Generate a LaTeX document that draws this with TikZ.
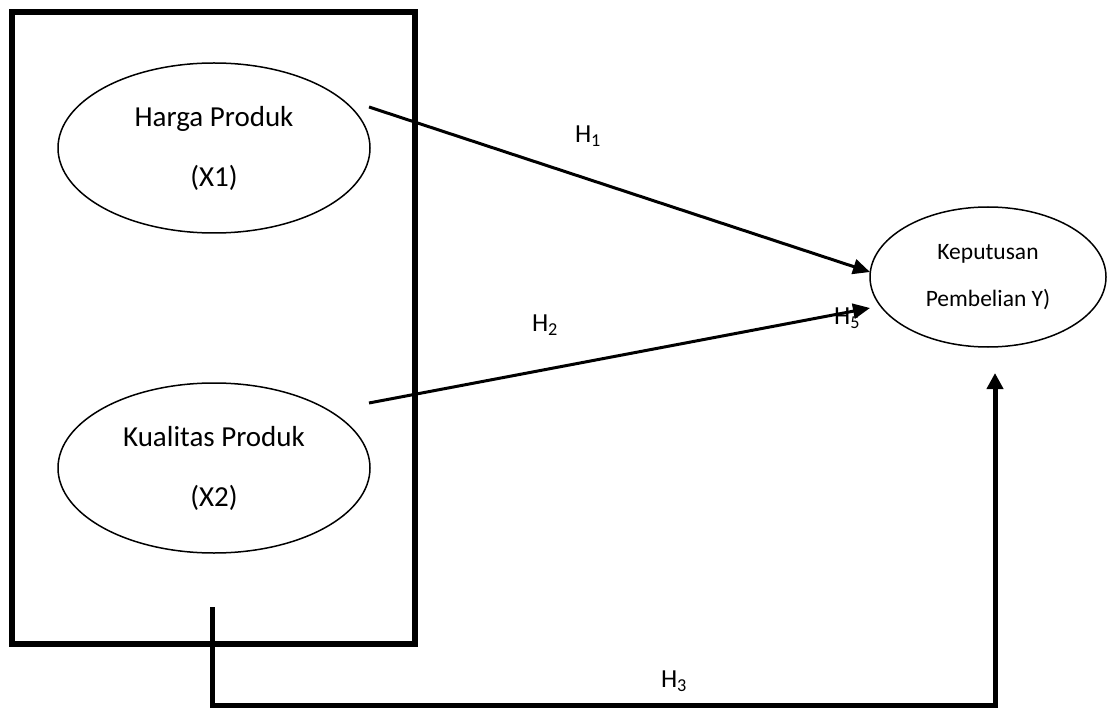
\documentclass[tikz,border=0pt]{standalone}
\usepackage{fontspec}
\setmainfont{Carlito}
\usetikzlibrary{positioning, arrows.meta, shapes.geometric}

\begin{document}
\begin{tikzpicture}[
  x=1pt, y=-1pt,
  grp/.style={draw, line width=6.5pt, minimum width=403pt, minimum height=632pt, inner sep=0pt},
  var/.style={ellipse, draw, line width=1.5pt, align=center, inner sep=0pt,
              minimum width=312pt, minimum height=170pt, font=\fontsize{29}{60}\selectfont},
  dep/.style={ellipse, draw, line width=1.5pt, align=center, inner sep=0pt,
              minimum width=236pt, minimum height=140pt, font=\fontsize{23.5}{47}\selectfont},
  hlab/.style={font=\fontsize{26}{30}\selectfont, inner sep=0pt},
  arr/.style={-{Triangle[length=17pt, width=15pt]}, line width=3pt},
  link/.style={-{Triangle[length=16pt, width=16pt]}, line width=5pt},
]
  \useasboundingbox (0,0) rectangle (1107,708);

  % variables
  \node[grp] (box) at (213.5,328) {};
  \node[var] (x1) at (214,148) {Harga Produk\\(X1)};
  \node[var] (x2) at (214,468) {Kualitas Produk\\(X2)};
  \node[dep] (y)  at (988,277) {Keputusan\\Pembelian Y)};

  % free ends of the connectors
  \coordinate (x1out) at (369,107);
  \coordinate (x2out) at (369,403);
  \coordinate (boxout) at (212,607);
  \coordinate (yin1) at (870,272);
  \coordinate (yin2) at (870,308);
  \coordinate (yin3) at (995,373);
  \coordinate (turn1) at (212,705);
  \coordinate (turn2) at (995,705);

  % hypotheses
  \node[hlab] (h1) at (588,136) {H\textsubscript{1}};
  \node[hlab] (h2) at (545,325) {H\textsubscript{2}};
  \node[hlab] (h3) at (674,681) {H\textsubscript{3}};
  \node[hlab] (h5) at (847,318) {H\textsubscript{5}};

  \draw[arr] (x1out) -- (yin1);
  \draw[arr] (x2out) -- (yin2);
  \draw[link] (boxout) -- (turn1) -- (turn2) -- (yin3);
\end{tikzpicture}
\end{document}
